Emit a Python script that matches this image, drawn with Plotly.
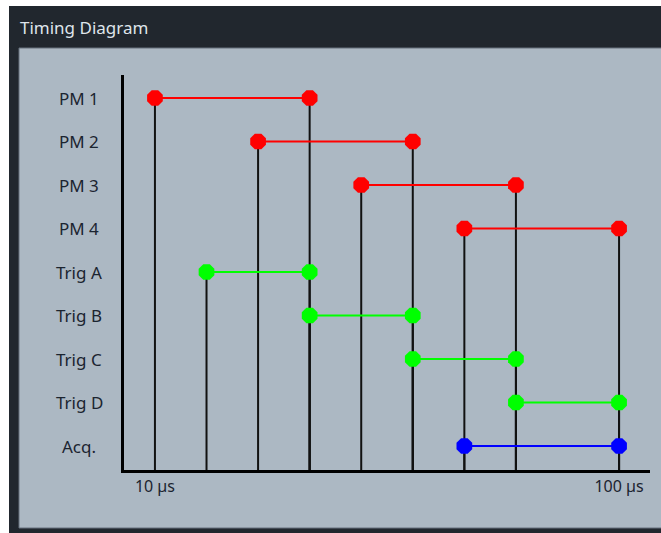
import plotly.graph_objects as go

# Timing diagram data
rows = ["PM 1", "PM 2", "PM 3", "PM 4", "Trig A", "Trig B", "Trig C", "Trig D", "Acq."]
starts = [10, 30, 50, 70, 20, 40, 60, 80, 70]
ends = [40, 60, 80, 100, 40, 60, 80, 100, 100]
row_colors = ["#ff0000"] * 4 + ["#00ff00"] * 4 + ["#0000ff"]
tick_vals = [10, 100]
tick_text = ["10 µs", "100 µs"]

W, H = 661, 533
L, R, T, B = 124, 650, 75, 470  # axis box in pixels
X_RANGE = [4, 106]
Y_RANGE = [8.5517, -0.5287]
Y_BOTTOM = Y_RANGE[0]
LABEL_PX = 79  # centre of the row labels

FONT = "Noto Sans"
TEXT_COLOR = "#1b2430"


def px(x):
    return (x - L) / (R - L)


def py(y):
    return (B - y) / (B - T)


fig = go.Figure()

# vertical drop lines from each event down to the time axis
drop_x, drop_y = [], []
for i, (s, e) in enumerate(zip(starts, ends)):
    for v in (s, e):
        drop_x += [v, v, None]
        drop_y += [i, Y_BOTTOM, None]
fig.add_trace(go.Scatter(x=drop_x, y=drop_y, mode="lines",
                         line=dict(color="#111111", width=2),
                         hoverinfo="skip", showlegend=False))

# horizontal segments with octagon end markers
for i, (name, s, e, c) in enumerate(zip(rows, starts, ends, row_colors)):
    fig.add_trace(go.Scatter(x=[s, e], y=[i, i], mode="lines+markers", name=name,
                             line=dict(color=c, width=2),
                             marker=dict(symbol="octagon", size=17, color=c),
                             showlegend=False, cliponaxis=False))

# row labels
annotations = [dict(x=px(LABEL_PX), y=i, xref="paper", yref="y", text=name, showarrow=False,
                    xanchor="center", yanchor="middle",
                    font=dict(family=FONT, size=17, color=TEXT_COLOR))
               for i, name in enumerate(rows)]

shapes = [
    # dark frame
    dict(type="rect", xref="paper", yref="paper", layer="below",
         x0=px(9), x1=px(W + 2), y0=py(6), y1=py(H + 2),
         fillcolor="#21272e", line=dict(width=0)),
    # light panel
    dict(type="rect", xref="paper", yref="paper", layer="below",
         x0=px(19), x1=px(W + 2), y0=py(48), y1=py(528),
         fillcolor="#acb8c3", line=dict(color="#66717c", width=1)),
]

fig.update_layout(
    width=W, height=H,
    margin=dict(l=L, r=W - R, t=T, b=H - B),
    paper_bgcolor="white",
    plot_bgcolor="rgba(0,0,0,0)",
    font=dict(family=FONT, size=16, color=TEXT_COLOR),
    title=dict(text="Timing Diagram", xref="container", yref="container",
               x=20 / W, xanchor="left", y=1 - 28 / H, yanchor="middle",
               font=dict(family=FONT, size=17, color="#dfe5eb")),
    shapes=shapes,
    annotations=annotations,
    xaxis=dict(range=X_RANGE, showgrid=False, zeroline=False,
               showline=True, linecolor="#000000", linewidth=3,
               tickvals=tick_vals, ticktext=tick_text, ticks="",
               tickfont=dict(family=FONT, size=16, color=TEXT_COLOR)),
    yaxis=dict(range=Y_RANGE, showgrid=False, zeroline=False,
               showline=True, linecolor="#000000", linewidth=3,
               showticklabels=False, ticks=""),
)

fig.write_html("out.html", config={"displayModeBar": False},
               post_script="document.body.style.margin='0';")
